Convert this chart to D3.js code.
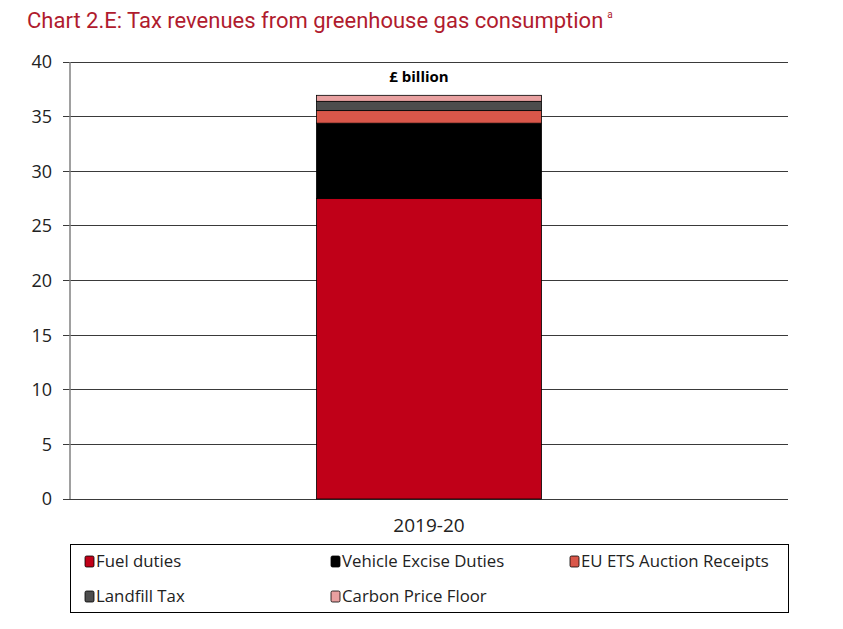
<!DOCTYPE html>
<html><head><meta charset="utf-8">
<script src="https://cdn.jsdelivr.net/npm/d3@7"></script>
<style>body{margin:0;background:#fff}svg{display:block}</style>
</head><body>
<script>
const categories = ["2019-20"];
const seriesNames = ["Fuel duties","Vehicle Excise Duties","EU ETS Auction Receipts","Landfill Tax","Carbon Price Floor"];
const fuelDuties = [27.5];
const vehicleExcise = [6.9];
const euEts = [1.15];
const landfillTax = [0.85];
const carbonPriceFloor = [0.55];
const yTicks = [0,5,10,15,20,25,30,35,40];
const colors = ["#c00018","#000000","#d9574a","#4d4d4d","#e8a0a0"];

const W=843,H=629;
const svg=d3.select("body").append("svg").attr("width",W).attr("height",H);
const font="'Open Sans', 'Noto Sans', sans-serif";

const title=svg.append("text").attr("x",27).attr("y",28).attr("fill","#b01b2e")
  .attr("font-family","'Roboto',sans-serif").attr("font-weight",400)
  .attr("font-size",22).text("Chart 2.E: Tax revenues from greenhouse gas consumption");
const tw=title.node().getComputedTextLength();
svg.append("text").attr("x",27+tw+4).attr("y",18).attr("fill","#b01b2e")
  .attr("font-family","'Roboto',sans-serif").attr("font-size",10).text("a");

const x=d3.scaleBand().domain(categories).range([70,788]).paddingInner(0.5228).paddingOuter(0.5228);
const y=d3.scaleLinear().domain([0,40]).range([499,62]);

// gridlines
svg.append("g").selectAll("line").data(yTicks).join("line")
  .attr("x1",63).attr("x2",788).attr("y1",d=>y(d)).attr("y2",d=>y(d))
  .attr("stroke","#3a3a3a").attr("stroke-width",1).attr("shape-rendering","crispEdges");

// y axis labels
svg.append("g").selectAll("text").data(yTicks).join("text")
  .attr("x",52).attr("y",d=>y(d)).attr("dy","0.36em").attr("text-anchor","end")
  .attr("font-family",font).attr("font-size",18).attr("fill","#222").text(d=>d);

// stacked data
const table=categories.map((c,i)=>({cat:c,s0:fuelDuties[i],s1:vehicleExcise[i],s2:euEts[i],s3:landfillTax[i],s4:carbonPriceFloor[i]}));
const stack=d3.stack().keys(["s0","s1","s2","s3","s4"])(table);
svg.append("g").selectAll("g").data(stack).join("g").attr("fill",(d,i)=>colors[i])
  .selectAll("rect").data(d=>d).join("rect")
  .attr("x",d=>x(d.data.cat)).attr("width",x.bandwidth())
  .attr("y",d=>y(d[1])).attr("height",d=>y(d[0])-y(d[1]))
  .attr("stroke","#000").attr("stroke-width",0.8);

// axis line
svg.append("line").attr("x1",70).attr("x2",70).attr("y1",62).attr("y2",499)
  .attr("stroke","#808080").attr("stroke-width",1.5);

// category label
svg.append("g").selectAll("text").data(categories).join("text")
  .attr("x",d=>x(d)+x.bandwidth()/2).attr("y",532).attr("text-anchor","middle")
  .attr("font-family",font).attr("font-size",19).attr("fill","#222").text(d=>d);

svg.append("text").attr("x",419).attr("y",82).attr("text-anchor","middle")
  .attr("font-family",font).attr("font-size",15).attr("font-weight","bold").text("£ billion");

// legend
svg.append("rect").attr("x",70.5).attr("y",544.5).attr("width",718).attr("height",68)
  .attr("fill","none").attr("stroke","#000").attr("stroke-width",1);
const legPos=[[85,561],[331,561],[570,561],[85,596],[331,596]];
const lg=svg.append("g").selectAll("g").data(seriesNames).join("g")
  .attr("transform",(d,i)=>`translate(${legPos[i][0]},${legPos[i][1]})`);
lg.append("rect").attr("x",0).attr("y",-5).attr("width",9).attr("height",11).attr("rx",1.5)
  .attr("fill",(d,i)=>colors[i]).attr("stroke","#000").attr("stroke-width",0.8);
lg.append("text").attr("x",11).attr("y",0).attr("dy","0.36em")
  .attr("font-family",font).attr("font-size",16.8).attr("fill","#222").text(d=>d);
</script>
</body></html>
